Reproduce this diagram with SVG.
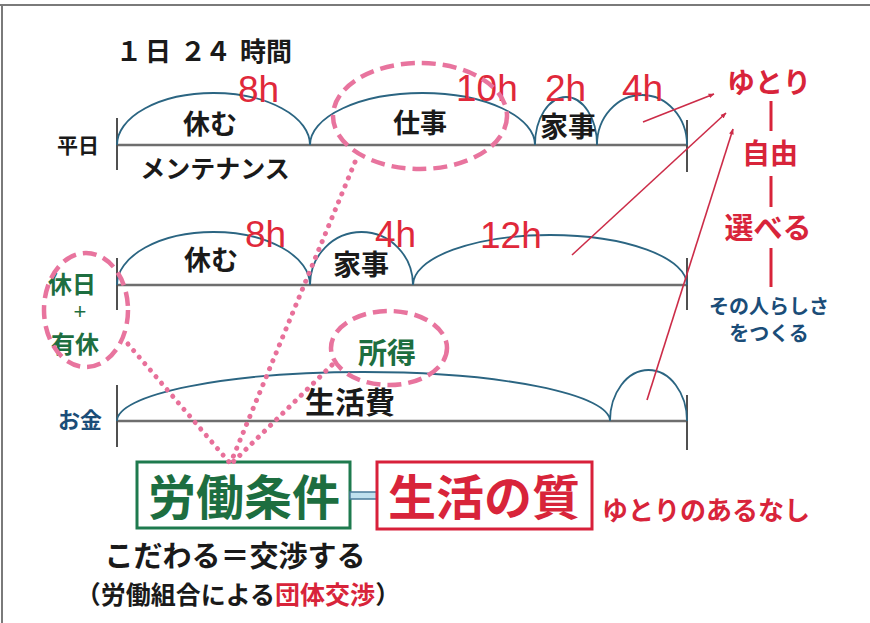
<svg xmlns="http://www.w3.org/2000/svg" width="870" height="623" viewBox="0 0 870 623">
<style>
.jp{font-family:"Noto Sans CJK JP","Noto Sans CJK SC",sans-serif;font-weight:700;text-anchor:middle}
.blk{fill:#1a1a1a}
.red{fill:#d8243a}
.grn{fill:#1d6e40}
.blu{fill:#1b4d78}
.hr{font-family:"Liberation Sans",Arial,sans-serif;font-size:37px;fill:#e0283a}
.arc{fill:none;stroke:#2b6582;stroke-width:1.8}
.base{stroke:#6e6e6e;stroke-width:2.5}
.tick{stroke:#505050;stroke-width:2}
.rl{stroke:#cc2c48;stroke-width:1.6;fill:none}
.vl{stroke:#d8243a;stroke-width:3}
.dash{fill:none;stroke:#e8749e;stroke-width:4.5;stroke-dasharray:14 7}
.dot{fill:none;stroke:#e8709a;stroke-width:5;stroke-dasharray:0.1 8.5;stroke-linecap:round}
</style>
<defs>
<marker id="ah" viewBox="0 0 10 10" refX="9" refY="5" markerWidth="6" markerHeight="6" orient="auto" markerUnits="userSpaceOnUse">
<path d="M0,1 L10,5 L0,9 z" fill="#cc2c48"/>
</marker>
</defs>
<rect width="870" height="623" fill="#ffffff"/>
<path d="M0,5 H870 M2,5 V623" stroke="#7a7a7a" stroke-width="2" fill="none"/>

<text class="jp blk" y="61" font-size="26" style="text-anchor:start"><tspan x="116">１</tspan><tspan x="145">日</tspan><tspan x="180">２</tspan><tspan x="205">４</tspan><tspan x="240">時間</tspan></text>

<g id="row-weekday">
<line class="base" x1="117" y1="145" x2="687" y2="145"/>
<line class="tick" x1="117" y1="118" x2="117" y2="170"/>
<line class="tick" x1="687" y1="120" x2="687" y2="172"/>
<path class="arc" d="M117,145 A96.5,52 0 0 1 310,145 A112.5,52 0 0 1 535,145 A31,48 0 0 1 597,145 A45,50 0 0 1 687,145"/>
<text class="jp blk" x="78" y="153" font-size="21">平日</text>
<text class="jp blk" x="210" y="134" font-size="27">休む</text>
<text class="jp blk" x="420" y="133" font-size="27">仕事</text>
<text class="jp blk" x="568" y="137" font-size="28">家事</text>
<text class="jp blk" x="215" y="178" font-size="25">メンテナンス</text>
<text class="hr" x="238" y="102">8h</text>
<text class="hr" x="456" y="101">10h</text>
<text class="hr" x="545" y="101">2h</text>
<text class="hr" x="622" y="101">4h</text>
</g>

<g id="row-holiday">
<line class="base" x1="117" y1="285" x2="687" y2="285"/>
<line class="tick" x1="117" y1="258" x2="117" y2="310"/>
<line class="tick" x1="687" y1="258" x2="687" y2="310"/>
<path class="arc" d="M117,285 A96.5,53 0 0 1 310,285 A51.5,53 0 0 1 413,285 A137,50 0 0 1 687,285"/>
<text class="jp grn" x="72" y="293" font-size="24">休日</text>
<text x="80" y="319" font-size="22" fill="#1d6e40" text-anchor="middle" font-family="Liberation Sans, Arial, sans-serif">+</text>
<text class="jp grn" x="75" y="353" font-size="24">有休</text>
<text class="jp blk" x="211" y="270" font-size="27">休む</text>
<text class="jp blk" x="361" y="275" font-size="28">家事</text>
<text class="hr" x="245" y="247">8h</text>
<text class="hr" x="375" y="247">4h</text>
<text class="hr" x="480" y="248">12h</text>
</g>

<g id="row-money">
<line class="base" x1="117" y1="421" x2="687" y2="421"/>
<line class="tick" x1="117" y1="385" x2="117" y2="447"/>
<line class="tick" x1="687" y1="395" x2="687" y2="450"/>
<path class="arc" d="M117,421 A246.5,49 0 0 1 610,421 A38.5,51 0 0 1 687,421"/>
<text class="jp blu" x="80" y="428" font-size="22">お金</text>
<text class="jp blk" x="350" y="413" font-size="30">生活費</text>
<text class="jp grn" x="387" y="364" font-size="29">所得</text>
</g>

<g id="right-column">
<text class="jp red" x="769" y="93" font-size="28">ゆとり</text>
<text class="jp red" x="770" y="164" font-size="28">自由</text>
<text class="jp red" x="768" y="239" font-size="29">選べる</text>
<text class="jp blu" x="769" y="314" font-size="20">その人らしさ</text>
<text class="jp blu" x="769" y="341" font-size="20">をつくる</text>
<line class="vl" x1="771" y1="101" x2="771" y2="131"/>
<line class="vl" x1="771" y1="176" x2="771" y2="207"/>
<line class="vl" x1="771" y1="248" x2="771" y2="287"/>
</g>

<g id="bottom">
<rect x="137" y="462" width="213" height="66" fill="none" stroke="#1e7a4e" stroke-width="3"/>
<text class="jp grn" x="244" y="515" font-size="48">労働条件</text>
<rect x="350" y="492" width="27" height="7" fill="#bfe0ee" stroke="#4a7a99" stroke-width="1.5"/>
<rect x="377" y="462" width="215" height="67" fill="none" stroke="#d8203a" stroke-width="3"/>
<text class="jp red" x="484" y="515" font-size="48">生活の質</text>
<text class="jp red" x="706" y="520" font-size="26">ゆとりのあるなし</text>
<text class="jp blk" x="235" y="567" font-size="29">こだわる＝交渉する</text>
<text class="jp blk" x="238" y="604" font-size="25">（労働組合による<tspan class="red">団体交渉</tspan>）</text>
</g>

<g id="connectors">
<ellipse class="dash" cx="420" cy="116" rx="87" ry="53"/>
<ellipse class="dash" cx="86" cy="310" rx="42" ry="57"/>
<ellipse class="dash" cx="389" cy="348" rx="58" ry="37"/>
<line class="dot" x1="355" y1="162" x2="231" y2="462"/>
<line class="dot" x1="128" y1="344" x2="229" y2="462"/>
<line class="dot" x1="332" y1="365" x2="233" y2="462"/>
<line class="rl" x1="643" y1="122" x2="714" y2="94" marker-end="url(#ah)"/>
<line class="rl" x1="572" y1="255" x2="726" y2="113" marker-end="url(#ah)"/>
<line class="rl" x1="647" y1="400" x2="733" y2="129" marker-end="url(#ah)"/>
</g>
</svg>
